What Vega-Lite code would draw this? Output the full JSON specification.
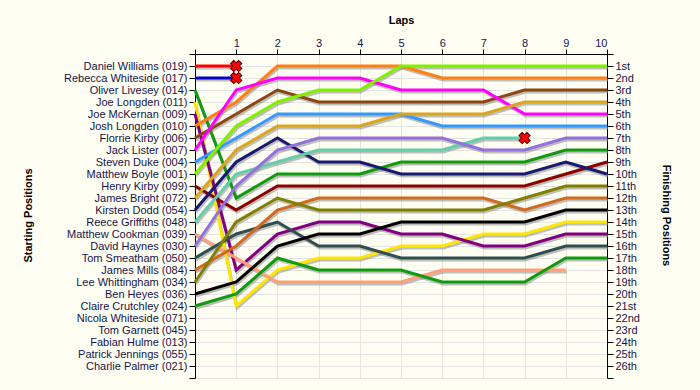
{
  "$schema": "https://vega.github.io/schema/vega-lite/v6.json",
  "width": 412,
  "height": 324,
  "autosize": {"type": "none"},
  "padding": {"left": 195, "top": 54, "right": 93, "bottom": 12},
  "background": "#FFFEF2",
  "config": {
    "view": {"stroke": null},
    "axis": {
      "labelFont": "Liberation Sans",
      "labelFontSize": 11,
      "labelColor": "#14144a",
      "titleFont": "Liberation Sans",
      "titleFontSize": 11,
      "titleFontWeight": "bold",
      "titleColor": "#000000",
      "domainColor": "#000000",
      "tickColor": "#000000",
      "gridColor": "#E4E4E4",
      "gridWidth": 1,
      "tickSize": 6,
      "labelPadding": 2
    }
  },
  "datasets": {
    "laps": [
      {"racer": "Daniel Williams (019)", "lap": 0, "pos": 1}, {"racer": "Daniel Williams (019)", "lap": 1, "pos": 1},
      {"racer": "Rebecca Whiteside (017)", "lap": 0, "pos": 2}, {"racer": "Rebecca Whiteside (017)", "lap": 1, "pos": 2},
      {"racer": "Oliver Livesey (014)", "lap": 0, "pos": 3}, {"racer": "Oliver Livesey (014)", "lap": 1, "pos": 12}, {"racer": "Oliver Livesey (014)", "lap": 2, "pos": 10}, {"racer": "Oliver Livesey (014)", "lap": 3, "pos": 10}, {"racer": "Oliver Livesey (014)", "lap": 4, "pos": 10}, {"racer": "Oliver Livesey (014)", "lap": 5, "pos": 9}, {"racer": "Oliver Livesey (014)", "lap": 6, "pos": 9}, {"racer": "Oliver Livesey (014)", "lap": 7, "pos": 9}, {"racer": "Oliver Livesey (014)", "lap": 8, "pos": 9}, {"racer": "Oliver Livesey (014)", "lap": 9, "pos": 8}, {"racer": "Oliver Livesey (014)", "lap": 10, "pos": 8},
      {"racer": "Joe Longden (011)", "lap": 0, "pos": 4}, {"racer": "Joe Longden (011)", "lap": 1, "pos": 21}, {"racer": "Joe Longden (011)", "lap": 2, "pos": 18}, {"racer": "Joe Longden (011)", "lap": 3, "pos": 17}, {"racer": "Joe Longden (011)", "lap": 4, "pos": 17}, {"racer": "Joe Longden (011)", "lap": 5, "pos": 16}, {"racer": "Joe Longden (011)", "lap": 6, "pos": 16}, {"racer": "Joe Longden (011)", "lap": 7, "pos": 15}, {"racer": "Joe Longden (011)", "lap": 8, "pos": 15}, {"racer": "Joe Longden (011)", "lap": 9, "pos": 14}, {"racer": "Joe Longden (011)", "lap": 10, "pos": 14},
      {"racer": "Joe McKernan (009)", "lap": 0, "pos": 5}, {"racer": "Joe McKernan (009)", "lap": 1, "pos": 18}, {"racer": "Joe McKernan (009)", "lap": 2, "pos": 15}, {"racer": "Joe McKernan (009)", "lap": 3, "pos": 14}, {"racer": "Joe McKernan (009)", "lap": 4, "pos": 14}, {"racer": "Joe McKernan (009)", "lap": 5, "pos": 15}, {"racer": "Joe McKernan (009)", "lap": 6, "pos": 15}, {"racer": "Joe McKernan (009)", "lap": 7, "pos": 16}, {"racer": "Joe McKernan (009)", "lap": 8, "pos": 16}, {"racer": "Joe McKernan (009)", "lap": 9, "pos": 15}, {"racer": "Joe McKernan (009)", "lap": 10, "pos": 15},
      {"racer": "Josh Longden (010)", "lap": 0, "pos": 6}, {"racer": "Josh Longden (010)", "lap": 1, "pos": 4}, {"racer": "Josh Longden (010)", "lap": 2, "pos": 1}, {"racer": "Josh Longden (010)", "lap": 3, "pos": 1}, {"racer": "Josh Longden (010)", "lap": 4, "pos": 1}, {"racer": "Josh Longden (010)", "lap": 5, "pos": 1}, {"racer": "Josh Longden (010)", "lap": 6, "pos": 2}, {"racer": "Josh Longden (010)", "lap": 7, "pos": 2}, {"racer": "Josh Longden (010)", "lap": 8, "pos": 2}, {"racer": "Josh Longden (010)", "lap": 9, "pos": 2}, {"racer": "Josh Longden (010)", "lap": 10, "pos": 2},
      {"racer": "Florrie Kirby (006)", "lap": 0, "pos": 7}, {"racer": "Florrie Kirby (006)", "lap": 1, "pos": 5}, {"racer": "Florrie Kirby (006)", "lap": 2, "pos": 3}, {"racer": "Florrie Kirby (006)", "lap": 3, "pos": 4}, {"racer": "Florrie Kirby (006)", "lap": 4, "pos": 4}, {"racer": "Florrie Kirby (006)", "lap": 5, "pos": 4}, {"racer": "Florrie Kirby (006)", "lap": 6, "pos": 4}, {"racer": "Florrie Kirby (006)", "lap": 7, "pos": 4}, {"racer": "Florrie Kirby (006)", "lap": 8, "pos": 3}, {"racer": "Florrie Kirby (006)", "lap": 9, "pos": 3}, {"racer": "Florrie Kirby (006)", "lap": 10, "pos": 3},
      {"racer": "Jack Lister (007)", "lap": 0, "pos": 8}, {"racer": "Jack Lister (007)", "lap": 1, "pos": 3}, {"racer": "Jack Lister (007)", "lap": 2, "pos": 2}, {"racer": "Jack Lister (007)", "lap": 3, "pos": 2}, {"racer": "Jack Lister (007)", "lap": 4, "pos": 2}, {"racer": "Jack Lister (007)", "lap": 5, "pos": 3}, {"racer": "Jack Lister (007)", "lap": 6, "pos": 3}, {"racer": "Jack Lister (007)", "lap": 7, "pos": 3}, {"racer": "Jack Lister (007)", "lap": 8, "pos": 5}, {"racer": "Jack Lister (007)", "lap": 9, "pos": 5}, {"racer": "Jack Lister (007)", "lap": 10, "pos": 5},
      {"racer": "Steven Duke (004)", "lap": 0, "pos": 9}, {"racer": "Steven Duke (004)", "lap": 1, "pos": 7}, {"racer": "Steven Duke (004)", "lap": 2, "pos": 5}, {"racer": "Steven Duke (004)", "lap": 3, "pos": 5}, {"racer": "Steven Duke (004)", "lap": 4, "pos": 5}, {"racer": "Steven Duke (004)", "lap": 5, "pos": 5}, {"racer": "Steven Duke (004)", "lap": 6, "pos": 6}, {"racer": "Steven Duke (004)", "lap": 7, "pos": 6}, {"racer": "Steven Duke (004)", "lap": 8, "pos": 6}, {"racer": "Steven Duke (004)", "lap": 9, "pos": 6}, {"racer": "Steven Duke (004)", "lap": 10, "pos": 6},
      {"racer": "Matthew Boyle (001)", "lap": 0, "pos": 10}, {"racer": "Matthew Boyle (001)", "lap": 1, "pos": 6}, {"racer": "Matthew Boyle (001)", "lap": 2, "pos": 4}, {"racer": "Matthew Boyle (001)", "lap": 3, "pos": 3}, {"racer": "Matthew Boyle (001)", "lap": 4, "pos": 3}, {"racer": "Matthew Boyle (001)", "lap": 5, "pos": 1}, {"racer": "Matthew Boyle (001)", "lap": 6, "pos": 1}, {"racer": "Matthew Boyle (001)", "lap": 7, "pos": 1}, {"racer": "Matthew Boyle (001)", "lap": 8, "pos": 1}, {"racer": "Matthew Boyle (001)", "lap": 9, "pos": 1}, {"racer": "Matthew Boyle (001)", "lap": 10, "pos": 1},
      {"racer": "Henry Kirby (099)", "lap": 0, "pos": 11}, {"racer": "Henry Kirby (099)", "lap": 1, "pos": 13}, {"racer": "Henry Kirby (099)", "lap": 2, "pos": 11}, {"racer": "Henry Kirby (099)", "lap": 3, "pos": 11}, {"racer": "Henry Kirby (099)", "lap": 4, "pos": 11}, {"racer": "Henry Kirby (099)", "lap": 5, "pos": 11}, {"racer": "Henry Kirby (099)", "lap": 6, "pos": 11}, {"racer": "Henry Kirby (099)", "lap": 7, "pos": 11}, {"racer": "Henry Kirby (099)", "lap": 8, "pos": 11}, {"racer": "Henry Kirby (099)", "lap": 9, "pos": 10}, {"racer": "Henry Kirby (099)", "lap": 10, "pos": 9},
      {"racer": "James Bright (072)", "lap": 0, "pos": 12}, {"racer": "James Bright (072)", "lap": 1, "pos": 8}, {"racer": "James Bright (072)", "lap": 2, "pos": 6}, {"racer": "James Bright (072)", "lap": 3, "pos": 6}, {"racer": "James Bright (072)", "lap": 4, "pos": 6}, {"racer": "James Bright (072)", "lap": 5, "pos": 5}, {"racer": "James Bright (072)", "lap": 6, "pos": 5}, {"racer": "James Bright (072)", "lap": 7, "pos": 5}, {"racer": "James Bright (072)", "lap": 8, "pos": 4}, {"racer": "James Bright (072)", "lap": 9, "pos": 4}, {"racer": "James Bright (072)", "lap": 10, "pos": 4},
      {"racer": "Kirsten Dodd (054)", "lap": 0, "pos": 13}, {"racer": "Kirsten Dodd (054)", "lap": 1, "pos": 9}, {"racer": "Kirsten Dodd (054)", "lap": 2, "pos": 7}, {"racer": "Kirsten Dodd (054)", "lap": 3, "pos": 9}, {"racer": "Kirsten Dodd (054)", "lap": 4, "pos": 9}, {"racer": "Kirsten Dodd (054)", "lap": 5, "pos": 10}, {"racer": "Kirsten Dodd (054)", "lap": 6, "pos": 10}, {"racer": "Kirsten Dodd (054)", "lap": 7, "pos": 10}, {"racer": "Kirsten Dodd (054)", "lap": 8, "pos": 10}, {"racer": "Kirsten Dodd (054)", "lap": 9, "pos": 9}, {"racer": "Kirsten Dodd (054)", "lap": 10, "pos": 10},
      {"racer": "Reece Griffiths (048)", "lap": 0, "pos": 14}, {"racer": "Reece Griffiths (048)", "lap": 1, "pos": 10}, {"racer": "Reece Griffiths (048)", "lap": 2, "pos": 9}, {"racer": "Reece Griffiths (048)", "lap": 3, "pos": 8}, {"racer": "Reece Griffiths (048)", "lap": 4, "pos": 8}, {"racer": "Reece Griffiths (048)", "lap": 5, "pos": 8}, {"racer": "Reece Griffiths (048)", "lap": 6, "pos": 8}, {"racer": "Reece Griffiths (048)", "lap": 7, "pos": 7}, {"racer": "Reece Griffiths (048)", "lap": 8, "pos": 7},
      {"racer": "Matthew Cookman (039)", "lap": 0, "pos": 15}, {"racer": "Matthew Cookman (039)", "lap": 1, "pos": 17}, {"racer": "Matthew Cookman (039)", "lap": 2, "pos": 19}, {"racer": "Matthew Cookman (039)", "lap": 3, "pos": 19}, {"racer": "Matthew Cookman (039)", "lap": 4, "pos": 19}, {"racer": "Matthew Cookman (039)", "lap": 5, "pos": 19}, {"racer": "Matthew Cookman (039)", "lap": 6, "pos": 18}, {"racer": "Matthew Cookman (039)", "lap": 7, "pos": 18}, {"racer": "Matthew Cookman (039)", "lap": 8, "pos": 18}, {"racer": "Matthew Cookman (039)", "lap": 9, "pos": 18},
      {"racer": "David Haynes (030)", "lap": 0, "pos": 16}, {"racer": "David Haynes (030)", "lap": 1, "pos": 11}, {"racer": "David Haynes (030)", "lap": 2, "pos": 8}, {"racer": "David Haynes (030)", "lap": 3, "pos": 7}, {"racer": "David Haynes (030)", "lap": 4, "pos": 7}, {"racer": "David Haynes (030)", "lap": 5, "pos": 7}, {"racer": "David Haynes (030)", "lap": 6, "pos": 7}, {"racer": "David Haynes (030)", "lap": 7, "pos": 8}, {"racer": "David Haynes (030)", "lap": 8, "pos": 8}, {"racer": "David Haynes (030)", "lap": 9, "pos": 7}, {"racer": "David Haynes (030)", "lap": 10, "pos": 7},
      {"racer": "Tom Smeatham (050)", "lap": 0, "pos": 17}, {"racer": "Tom Smeatham (050)", "lap": 1, "pos": 15}, {"racer": "Tom Smeatham (050)", "lap": 2, "pos": 14}, {"racer": "Tom Smeatham (050)", "lap": 3, "pos": 16}, {"racer": "Tom Smeatham (050)", "lap": 4, "pos": 16}, {"racer": "Tom Smeatham (050)", "lap": 5, "pos": 17}, {"racer": "Tom Smeatham (050)", "lap": 6, "pos": 17}, {"racer": "Tom Smeatham (050)", "lap": 7, "pos": 17}, {"racer": "Tom Smeatham (050)", "lap": 8, "pos": 17}, {"racer": "Tom Smeatham (050)", "lap": 9, "pos": 16}, {"racer": "Tom Smeatham (050)", "lap": 10, "pos": 16},
      {"racer": "James Mills (084)", "lap": 0, "pos": 18}, {"racer": "James Mills (084)", "lap": 1, "pos": 16}, {"racer": "James Mills (084)", "lap": 2, "pos": 13}, {"racer": "James Mills (084)", "lap": 3, "pos": 12}, {"racer": "James Mills (084)", "lap": 4, "pos": 12}, {"racer": "James Mills (084)", "lap": 5, "pos": 12}, {"racer": "James Mills (084)", "lap": 6, "pos": 12}, {"racer": "James Mills (084)", "lap": 7, "pos": 12}, {"racer": "James Mills (084)", "lap": 8, "pos": 13}, {"racer": "James Mills (084)", "lap": 9, "pos": 12}, {"racer": "James Mills (084)", "lap": 10, "pos": 12},
      {"racer": "Lee Whittingham (034)", "lap": 0, "pos": 19}, {"racer": "Lee Whittingham (034)", "lap": 1, "pos": 14}, {"racer": "Lee Whittingham (034)", "lap": 2, "pos": 12}, {"racer": "Lee Whittingham (034)", "lap": 3, "pos": 13}, {"racer": "Lee Whittingham (034)", "lap": 4, "pos": 13}, {"racer": "Lee Whittingham (034)", "lap": 5, "pos": 13}, {"racer": "Lee Whittingham (034)", "lap": 6, "pos": 13}, {"racer": "Lee Whittingham (034)", "lap": 7, "pos": 13}, {"racer": "Lee Whittingham (034)", "lap": 8, "pos": 12}, {"racer": "Lee Whittingham (034)", "lap": 9, "pos": 11}, {"racer": "Lee Whittingham (034)", "lap": 10, "pos": 11},
      {"racer": "Ben Heyes (036)", "lap": 0, "pos": 20}, {"racer": "Ben Heyes (036)", "lap": 1, "pos": 19}, {"racer": "Ben Heyes (036)", "lap": 2, "pos": 16}, {"racer": "Ben Heyes (036)", "lap": 3, "pos": 15}, {"racer": "Ben Heyes (036)", "lap": 4, "pos": 15}, {"racer": "Ben Heyes (036)", "lap": 5, "pos": 14}, {"racer": "Ben Heyes (036)", "lap": 6, "pos": 14}, {"racer": "Ben Heyes (036)", "lap": 7, "pos": 14}, {"racer": "Ben Heyes (036)", "lap": 8, "pos": 14}, {"racer": "Ben Heyes (036)", "lap": 9, "pos": 13}, {"racer": "Ben Heyes (036)", "lap": 10, "pos": 13},
      {"racer": "Claire Crutchley (024)", "lap": 0, "pos": 21}, {"racer": "Claire Crutchley (024)", "lap": 1, "pos": 20}, {"racer": "Claire Crutchley (024)", "lap": 2, "pos": 17}, {"racer": "Claire Crutchley (024)", "lap": 3, "pos": 18}, {"racer": "Claire Crutchley (024)", "lap": 4, "pos": 18}, {"racer": "Claire Crutchley (024)", "lap": 5, "pos": 18}, {"racer": "Claire Crutchley (024)", "lap": 6, "pos": 19}, {"racer": "Claire Crutchley (024)", "lap": 7, "pos": 19}, {"racer": "Claire Crutchley (024)", "lap": 8, "pos": 19}, {"racer": "Claire Crutchley (024)", "lap": 9, "pos": 17}, {"racer": "Claire Crutchley (024)", "lap": 10, "pos": 17}
    ],
    "retired": [
      {"racer": "Daniel Williams (019)", "lap": 1, "pos": 1},
      {"racer": "Rebecca Whiteside (017)", "lap": 1, "pos": 2},
      {"racer": "Reece Griffiths (048)", "lap": 8, "pos": 7}
    ]
  },
  "layer": [
    {
      "data": {"name": "laps"},
      "mark": {"type": "line", "color": "#8a8a8a", "opacity": 0.55, "strokeWidth": 3, "xOffset": 1, "yOffset": 2},
      "encoding": {
        "x": {
          "field": "lap", "type": "quantitative",
          "scale": {"domain": [0, 10], "nice": false, "zero": false},
          "axis": {
            "orient": "top", "values": [0, 1, 2, 3, 4, 5, 6, 7, 8, 9, 10],
            "labelExpr": "datum.value == 0 ? '' : datum.value",
            "grid": true, "tickSize": 5, "labelPadding": 1,
            "title": "Laps", "titleX": 206, "titleY": -31, "titleBaseline": "alphabetic", "titleAnchor": null
          }
        },
        "y": {
          "field": "pos", "type": "quantitative",
          "scale": {"domain": [0, 27], "nice": false, "zero": false, "reverse": true},
          "axis": {
            "orient": "left", "values": [0, 1, 2, 3, 4, 5, 6, 7, 8, 9, 10, 11, 12, 13, 14, 15, 16, 17, 18, 19, 20, 21, 22, 23, 24, 25, 26, 27],
            "labelExpr": "['', 'Daniel Williams (019)', 'Rebecca Whiteside (017)', 'Oliver Livesey (014)', 'Joe Longden (011)', 'Joe McKernan (009)', 'Josh Longden (010)', 'Florrie Kirby (006)', 'Jack Lister (007)', 'Steven Duke (004)', 'Matthew Boyle (001)', 'Henry Kirby (099)', 'James Bright (072)', 'Kirsten Dodd (054)', 'Reece Griffiths (048)', 'Matthew Cookman (039)', 'David Haynes (030)', 'Tom Smeatham (050)', 'James Mills (084)', 'Lee Whittingham (034)', 'Ben Heyes (036)', 'Claire Crutchley (024)', 'Nicola Whiteside (071)', 'Tom Garnett (045)', 'Fabian Hulme (013)', 'Patrick Jennings (055)', 'Charlie Palmer (021)', ''][datum.value]",
            "grid": true, "labelFlush": false, "labelOverlap": false,
            "title": "Starting Positions", "titleAngle": -90, "titleX": -164, "titleY": 161, "titleBaseline": "alphabetic", "titleAlign": "center", "titleAnchor": null
          }
        },
        "detail": {"field": "racer"}
      }
    },
    {
      "data": {"name": "laps"},
      "mark": {"type": "line", "strokeWidth": 3},
      "encoding": {
        "x": {"field": "lap", "type": "quantitative", "scale": {"domain": [0, 10], "nice": false, "zero": false}},
        "y": {
          "field": "pos", "type": "quantitative",
          "scale": {"domain": [0, 27], "nice": false, "zero": false, "reverse": true},
          "axis": {
            "orient": "right", "values": [0, 1, 2, 3, 4, 5, 6, 7, 8, 9, 10, 11, 12, 13, 14, 15, 16, 17, 18, 19, 20, 21, 22, 23, 24, 25, 26, 27],
            "labelExpr": "['', '1st', '2nd', '3rd', '4th', '5th', '6th', '7th', '8th', '9th', '10th', '11th', '12th', '13th', '14th', '15th', '16th', '17th', '18th', '19th', '20th', '21st', '22nd', '23rd', '24th', '25th', '26th', ''][datum.value]",
            "grid": false, "labelFlush": false, "labelOverlap": false,
            "title": "Finishing Positions", "titleAngle": 90, "titleX": 55, "titleY": 161, "titleBaseline": "alphabetic", "titleAlign": "center", "titleAnchor": null
          }
        },
        "color": {
          "field": "racer", "type": "nominal", "legend": null,
          "scale": {
            "domain": ["Daniel Williams (019)", "Rebecca Whiteside (017)", "Oliver Livesey (014)", "Joe Longden (011)", "Joe McKernan (009)", "Josh Longden (010)", "Florrie Kirby (006)", "Jack Lister (007)", "Steven Duke (004)", "Matthew Boyle (001)", "Henry Kirby (099)", "James Bright (072)", "Kirsten Dodd (054)", "Reece Griffiths (048)", "Matthew Cookman (039)", "David Haynes (030)", "Tom Smeatham (050)", "James Mills (084)", "Lee Whittingham (034)", "Ben Heyes (036)", "Claire Crutchley (024)"],
            "range": ["#FF0000", "#0000CC", "#109A10", "#FFE600", "#800080", "#FF8010", "#8B4513", "#FF00FF", "#3399FF", "#80F000", "#8B0000", "#DAA520", "#191970", "#66CDAA", "#FFA07A", "#9370DB", "#2F4F4F", "#D2691E", "#808000", "#000000", "#109A10"]
          }
        }
      }
    },
    {
      "data": {"name": "retired"},
      "mark": {"type": "point", "shape": "cross", "angle": 45, "size": 130, "filled": true, "fill": "#FF0000", "stroke": "#5a0000", "strokeWidth": 1, "opacity": 1},
      "encoding": {
        "x": {"field": "lap", "type": "quantitative", "scale": {"domain": [0, 10], "nice": false, "zero": false}},
        "y": {"field": "pos", "type": "quantitative", "scale": {"domain": [0, 27], "nice": false, "zero": false, "reverse": true}, "axis": null}
      }
    }
  ],
  "resolve": {"axis": {"y": "independent"}}
}
